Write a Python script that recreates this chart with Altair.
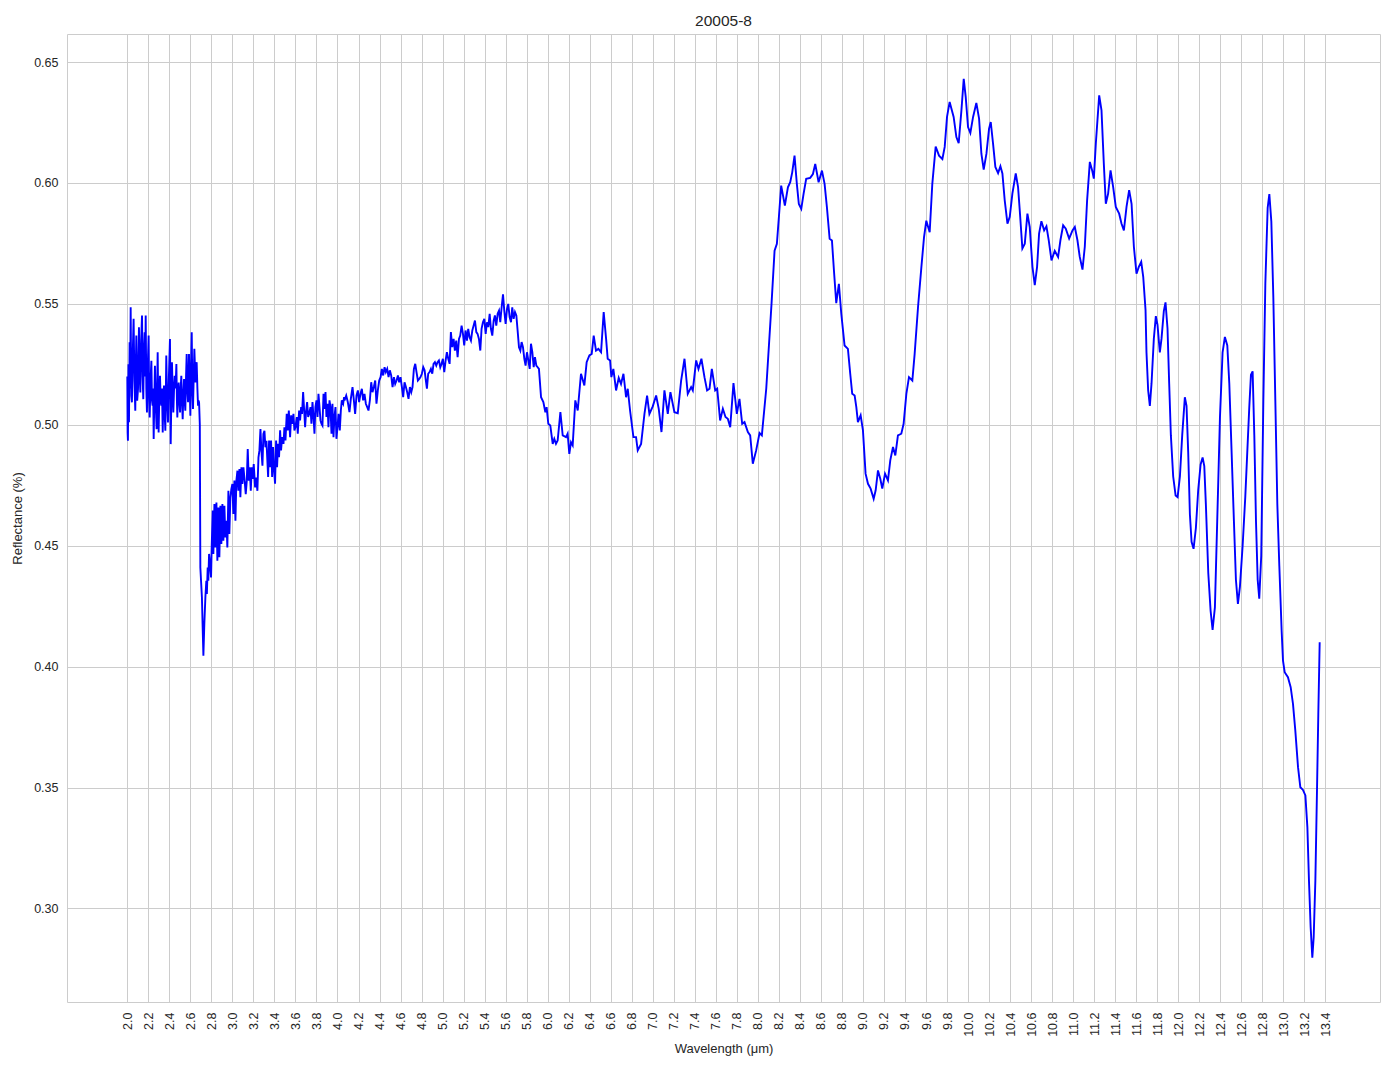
import altair as alt
import pandas as pd

TITLE = "20005-8"
X_TITLE = "Wavelength (μm)"
Y_TITLE = "Reflectance (%)"

x_ticks = [2.0, 2.2, 2.4, 2.6, 2.8, 3.0, 3.2, 3.4, 3.6, 3.8, 4.0, 4.2, 4.4, 4.6, 4.8,
           5.0, 5.2, 5.4, 5.6, 5.8, 6.0, 6.2, 6.4, 6.6, 6.8, 7.0, 7.2, 7.4, 7.6, 7.8,
           8.0, 8.2, 8.4, 8.6, 8.8, 9.0, 9.2, 9.4, 9.6, 9.8, 10.0, 10.2, 10.4, 10.6,
           10.8, 11.0, 11.2, 11.4, 11.6, 11.8, 12.0, 12.2, 12.4, 12.6, 12.8, 13.0,
           13.2, 13.4]
y_ticks = [0.30, 0.35, 0.40, 0.45, 0.50, 0.55, 0.60, 0.65]

# (wavelength µm, reflectance), segment by segment
seg_noisy_start = [
    (2.000, 0.5200), (2.003, 0.4968), (2.006, 0.4934), (2.011, 0.5250), (2.016, 0.5010),
    (2.022, 0.5341), (2.027, 0.5150), (2.032, 0.5486), (2.038, 0.5120), (2.044, 0.5093),
    (2.052, 0.5300), (2.060, 0.5438), (2.068, 0.5180), (2.076, 0.5058), (2.081, 0.5250),
    (2.086, 0.5369), (2.094, 0.5100), (2.102, 0.5148), (2.107, 0.5300), (2.111, 0.5403),
    (2.118, 0.5200), (2.124, 0.5134), (2.132, 0.5350), (2.140, 0.5452), (2.146, 0.5200),
    (2.152, 0.5106), (2.158, 0.5300), (2.165, 0.5383), (2.170, 0.5200), (2.175, 0.5452),
    (2.181, 0.5150), (2.187, 0.5051), (2.195, 0.5250), (2.203, 0.5369), (2.208, 0.5100),
    (2.213, 0.5030), (2.221, 0.5180), (2.229, 0.5265), (2.235, 0.5100), (2.241, 0.5079),
    (2.246, 0.5150), (2.251, 0.4941), (2.257, 0.5100), (2.263, 0.5244), (2.271, 0.5080),
    (2.279, 0.4982), (2.284, 0.5150), (2.289, 0.5300), (2.294, 0.5100), (2.298, 0.4968),
    (2.305, 0.5120), (2.311, 0.5203), (2.318, 0.5100), (2.324, 0.5079), (2.330, 0.5150),
    (2.337, 0.4968), (2.343, 0.5100), (2.349, 0.5162), (2.355, 0.5050), (2.362, 0.4975),
    (2.367, 0.5150), (2.371, 0.5286), (2.379, 0.5100), (2.387, 0.5010), (2.396, 0.5200),
    (2.406, 0.5355), (2.410, 0.5100), (2.413, 0.4920), (2.419, 0.5100), (2.425, 0.5258),
    (2.431, 0.5150), (2.438, 0.5051), (2.445, 0.5150), (2.451, 0.5203), (2.459, 0.5150),
    (2.467, 0.5251), (2.472, 0.5100), (2.476, 0.5030), (2.482, 0.5120), (2.489, 0.5175),
    (2.495, 0.5100), (2.502, 0.5051), (2.508, 0.5150), (2.514, 0.5203), (2.520, 0.5100),
    (2.527, 0.5023), (2.533, 0.5120), (2.540, 0.5189), (2.546, 0.5100), (2.552, 0.5058),
    (2.559, 0.5200), (2.565, 0.5293), (2.571, 0.5150), (2.578, 0.5093), (2.583, 0.5200),
    (2.587, 0.5293), (2.594, 0.5150), (2.600, 0.5037), (2.607, 0.5250), (2.613, 0.5383),
    (2.619, 0.5150), (2.625, 0.5065), (2.632, 0.5200), (2.638, 0.5314), (2.643, 0.5250),
    (2.648, 0.5175), (2.654, 0.5250), (2.660, 0.5258), (2.667, 0.5150), (2.673, 0.5079),
    (2.678, 0.5100), (2.683, 0.5093),
]

seg_drop_recovery = [
    (2.690, 0.5000), (2.695, 0.4410), (2.710, 0.4287), (2.717, 0.4163), (2.724, 0.4045),
    (2.733, 0.4176), (2.743, 0.4287), (2.752, 0.4355), (2.757, 0.4300), (2.765, 0.4410),
    (2.771, 0.4355), (2.778, 0.4466), (2.787, 0.4424), (2.797, 0.4369), (2.803, 0.4493),
    (2.813, 0.4645), (2.819, 0.4466), (2.829, 0.4672), (2.838, 0.4493), (2.848, 0.4679),
    (2.857, 0.4438), (2.867, 0.4658), (2.876, 0.4452), (2.886, 0.4665), (2.895, 0.4507),
    (2.905, 0.4672), (2.914, 0.4521), (2.924, 0.4665), (2.933, 0.4534), (2.943, 0.4603),
    (2.952, 0.4493), (2.962, 0.4727), (2.971, 0.4548), (2.981, 0.4700), (2.990, 0.4734),
    (3.000, 0.4755), (3.009, 0.4631), (3.019, 0.4769), (3.029, 0.4603), (3.038, 0.4769),
    (3.048, 0.4810), (3.057, 0.4727), (3.067, 0.4817), (3.076, 0.4700), (3.086, 0.4824),
    (3.095, 0.4755), (3.105, 0.4824), (3.114, 0.4782), (3.127, 0.4713), (3.137, 0.4769),
    (3.146, 0.4900), (3.156, 0.4769), (3.165, 0.4824), (3.175, 0.4727), (3.184, 0.4824),
    (3.194, 0.4776), (3.203, 0.4838), (3.216, 0.4741), (3.225, 0.4782), (3.238, 0.4727),
    (3.248, 0.4865), (3.257, 0.4893), (3.267, 0.4982), (3.276, 0.4893), (3.286, 0.4831),
    (3.295, 0.4962), (3.305, 0.4975), (3.314, 0.4907), (3.324, 0.4934),
]

seg_rise_to_4 = [
    (3.340, 0.4784), (3.349, 0.4935), (3.359, 0.4825), (3.368, 0.4935), (3.378, 0.4784),
    (3.387, 0.4908), (3.397, 0.4811), (3.406, 0.4756), (3.416, 0.4935), (3.425, 0.4825),
    (3.435, 0.4921), (3.444, 0.4866), (3.454, 0.4977), (3.463, 0.4894), (3.473, 0.4949),
    (3.486, 0.4921), (3.495, 0.4990), (3.505, 0.4935), (3.517, 0.5045), (3.527, 0.4977),
    (3.537, 0.5059), (3.549, 0.4949), (3.559, 0.5039), (3.568, 0.5004), (3.581, 0.5045),
    (3.590, 0.4977), (3.600, 0.4990), (3.613, 0.5032), (3.622, 0.4963), (3.635, 0.5059),
    (3.644, 0.5018), (3.654, 0.5073), (3.663, 0.5045), (3.673, 0.5135), (3.683, 0.5059),
    (3.692, 0.4990), (3.702, 0.5059), (3.711, 0.5094), (3.721, 0.5032), (3.730, 0.5045),
    (3.743, 0.5073), (3.752, 0.5004), (3.762, 0.5094), (3.771, 0.5039), (3.781, 0.4963),
    (3.790, 0.5073), (3.800, 0.5101), (3.810, 0.5032), (3.819, 0.5128), (3.829, 0.5073),
    (3.838, 0.5018), (3.848, 0.5004), (3.857, 0.4997), (3.867, 0.5128), (3.876, 0.5066),
    (3.886, 0.5135), (3.895, 0.5032), (3.905, 0.5087), (3.914, 0.4990), (3.924, 0.5101),
    (3.933, 0.5073), (3.943, 0.4963), (3.952, 0.5087), (3.962, 0.4949), (3.971, 0.5032),
    (3.981, 0.5073), (3.990, 0.4942), (4.000, 0.4990), (4.010, 0.5045), (4.022, 0.4977),
    (4.032, 0.5059), (4.041, 0.5101), (4.054, 0.5087), (4.063, 0.5114),
]

seg_4_to_6 = [
    (4.067, 0.5101), (4.083, 0.5121), (4.098, 0.5094), (4.114, 0.5052), (4.127, 0.5107),
    (4.143, 0.5156), (4.156, 0.5101), (4.168, 0.5045), (4.181, 0.5121), (4.194, 0.5142),
    (4.206, 0.5094), (4.219, 0.5128), (4.232, 0.5149), (4.244, 0.5101), (4.257, 0.5128),
    (4.270, 0.5087), (4.283, 0.5073), (4.295, 0.5059), (4.308, 0.5101), (4.321, 0.5176),
    (4.333, 0.5135), (4.346, 0.5156), (4.359, 0.5183), (4.371, 0.5087), (4.384, 0.5142),
    (4.397, 0.5183), (4.410, 0.5197), (4.422, 0.5231), (4.435, 0.5204), (4.448, 0.5238),
    (4.460, 0.5218), (4.473, 0.5231), (4.486, 0.5197), (4.498, 0.5225), (4.511, 0.5204),
    (4.524, 0.5156), (4.537, 0.5197), (4.549, 0.5169), (4.562, 0.5183), (4.575, 0.5204),
    (4.587, 0.5176), (4.600, 0.5197), (4.613, 0.5156), (4.625, 0.5114), (4.638, 0.5176),
    (4.651, 0.5156), (4.663, 0.5135), (4.676, 0.5107), (4.689, 0.5156), (4.702, 0.5135),
    (4.714, 0.5156), (4.727, 0.5231), (4.740, 0.5252), (4.752, 0.5218), (4.765, 0.5183),
    (4.778, 0.5190), (4.790, 0.5197), (4.803, 0.5211), (4.816, 0.5238), (4.829, 0.5225),
    (4.841, 0.5183), (4.851, 0.5149), (4.863, 0.5211), (4.876, 0.5218), (4.889, 0.5231),
    (4.902, 0.5211), (4.914, 0.5252), (4.927, 0.5259), (4.940, 0.5245), (4.952, 0.5259),
    (4.965, 0.5266), (4.978, 0.5238), (4.990, 0.5252), (5.003, 0.5273), (5.016, 0.5218),
    (5.029, 0.5266), (5.041, 0.5300), (5.054, 0.5273), (5.067, 0.5252), (5.079, 0.5383),
    (5.092, 0.5321), (5.105, 0.5355), (5.117, 0.5307), (5.130, 0.5348), (5.143, 0.5280),
    (5.156, 0.5355), (5.168, 0.5369), (5.181, 0.5410), (5.194, 0.5376), (5.206, 0.5328),
    (5.219, 0.5390), (5.232, 0.5348), (5.244, 0.5397), (5.257, 0.5362), (5.270, 0.5348),
    (5.283, 0.5390), (5.295, 0.5410), (5.308, 0.5431), (5.321, 0.5383), (5.333, 0.5376),
    (5.346, 0.5355), (5.359, 0.5307), (5.371, 0.5397), (5.384, 0.5424), (5.397, 0.5438),
    (5.410, 0.5376), (5.422, 0.5424), (5.435, 0.5404), (5.448, 0.5459), (5.460, 0.5397),
    (5.473, 0.5369), (5.486, 0.5431), (5.498, 0.5452), (5.511, 0.5410), (5.524, 0.5459),
    (5.537, 0.5472), (5.549, 0.5424), (5.562, 0.5486), (5.575, 0.5539), (5.587, 0.5472),
    (5.600, 0.5417), (5.613, 0.5479), (5.625, 0.5500), (5.638, 0.5445), (5.651, 0.5424),
    (5.663, 0.5486), (5.676, 0.5438), (5.689, 0.5466), (5.702, 0.5452), (5.714, 0.5390),
    (5.727, 0.5321), (5.740, 0.5307), (5.752, 0.5342), (5.765, 0.5321), (5.778, 0.5273),
    (5.790, 0.5245), (5.803, 0.5300), (5.816, 0.5266), (5.829, 0.5231), (5.841, 0.5335),
    (5.854, 0.5300), (5.867, 0.5238), (5.879, 0.5280), (5.892, 0.5245), (5.905, 0.5238),
    (5.917, 0.5231),
]

seg_6_to_8 = [
    (5.937, 0.5114), (5.959, 0.5094), (5.978, 0.5052), (5.990, 0.5073), (6.006, 0.5004),
    (6.025, 0.4997), (6.048, 0.4921), (6.063, 0.4942), (6.079, 0.4921), (6.095, 0.4935),
    (6.121, 0.5052), (6.143, 0.4956), (6.175, 0.4949), (6.190, 0.4963), (6.206, 0.4880),
    (6.222, 0.4928), (6.238, 0.4915), (6.263, 0.5101), (6.286, 0.5059), (6.317, 0.5211),
    (6.349, 0.5163), (6.371, 0.5259), (6.397, 0.5287), (6.419, 0.5293), (6.438, 0.5369),
    (6.460, 0.5307), (6.483, 0.5314), (6.508, 0.5300), (6.533, 0.5466), (6.556, 0.5355),
    (6.571, 0.5273), (6.594, 0.5266), (6.606, 0.5197), (6.625, 0.5231), (6.651, 0.5142),
    (6.676, 0.5194), (6.698, 0.5169), (6.721, 0.5211), (6.746, 0.5114), (6.762, 0.5149),
    (6.784, 0.5059), (6.816, 0.4949), (6.841, 0.4949), (6.857, 0.4894), (6.889, 0.4921),
    (6.921, 0.5045), (6.946, 0.5121), (6.968, 0.5045), (7.000, 0.5076), (7.032, 0.5121),
    (7.057, 0.5066), (7.083, 0.4970), (7.111, 0.5142), (7.143, 0.5045), (7.168, 0.5135),
    (7.206, 0.5052), (7.238, 0.5048), (7.270, 0.5183), (7.302, 0.5273), (7.333, 0.5128),
    (7.365, 0.5156), (7.381, 0.5142), (7.413, 0.5266), (7.435, 0.5231), (7.463, 0.5273),
    (7.492, 0.5197), (7.517, 0.5142), (7.540, 0.5149), (7.562, 0.5231), (7.594, 0.5142),
    (7.613, 0.5149), (7.641, 0.5018), (7.667, 0.5066), (7.692, 0.5032), (7.714, 0.5025),
    (7.737, 0.4990), (7.768, 0.5172), (7.800, 0.5045), (7.825, 0.5107), (7.851, 0.5004),
    (7.873, 0.5011), (7.905, 0.4970), (7.927, 0.4956), (7.952, 0.4839), (7.984, 0.4894),
    (8.016, 0.4966), (8.038, 0.4956), (8.080, 0.5150), (8.130, 0.5500),
]

seg_8_to_9_8 = [
    (8.159, 0.5720), (8.181, 0.5748), (8.200, 0.5858), (8.222, 0.5989), (8.257, 0.5906),
    (8.286, 0.5982), (8.308, 0.6003), (8.327, 0.6044), (8.349, 0.6113), (8.371, 0.5996),
    (8.390, 0.5913), (8.413, 0.5893), (8.435, 0.5955), (8.460, 0.6017), (8.498, 0.6021),
    (8.524, 0.6037), (8.546, 0.6079), (8.578, 0.6003), (8.610, 0.6051), (8.635, 0.5996),
    (8.657, 0.5900), (8.683, 0.5769), (8.705, 0.5762), (8.724, 0.5638), (8.746, 0.5503),
    (8.771, 0.5583), (8.794, 0.5459), (8.825, 0.5328), (8.857, 0.5314), (8.879, 0.5211),
    (8.898, 0.5128), (8.921, 0.5121), (8.937, 0.5073), (8.952, 0.5011), (8.978, 0.5039),
    (9.000, 0.4977), (9.025, 0.4798), (9.048, 0.4756), (9.073, 0.4736), (9.102, 0.4694),
    (9.121, 0.4729), (9.143, 0.4811), (9.165, 0.4777), (9.184, 0.4736), (9.210, 0.4798),
    (9.238, 0.4770), (9.260, 0.4853), (9.286, 0.4908), (9.308, 0.4873), (9.333, 0.4956),
    (9.365, 0.4963), (9.387, 0.5004), (9.413, 0.5128), (9.438, 0.5197), (9.470, 0.5183),
    (9.492, 0.5293), (9.524, 0.5486), (9.556, 0.5652), (9.581, 0.5775), (9.603, 0.5844),
    (9.635, 0.5796), (9.660, 0.5996), (9.692, 0.6150), (9.724, 0.6113), (9.756, 0.6099),
]

seg_9_8_to_11_7 = [
    (9.778, 0.6149), (9.800, 0.6273), (9.825, 0.6335), (9.863, 0.6273), (9.889, 0.6190),
    (9.911, 0.6165), (9.937, 0.6300), (9.959, 0.6431), (9.978, 0.6355), (10.000, 0.6231),
    (10.022, 0.6207), (10.048, 0.6273), (10.079, 0.6331), (10.105, 0.6266), (10.127, 0.6121),
    (10.149, 0.6055), (10.175, 0.6121), (10.200, 0.6225), (10.216, 0.6252), (10.238, 0.6163),
    (10.260, 0.6066), (10.286, 0.6041), (10.308, 0.6069), (10.327, 0.6039), (10.349, 0.5928),
    (10.375, 0.5832), (10.397, 0.5860), (10.422, 0.5956), (10.454, 0.6039), (10.476, 0.5983),
    (10.492, 0.5887), (10.517, 0.5729), (10.540, 0.5749), (10.565, 0.5873), (10.587, 0.5818),
    (10.613, 0.5653), (10.635, 0.5577), (10.657, 0.5653), (10.676, 0.5791), (10.698, 0.5842),
    (10.724, 0.5804), (10.746, 0.5821), (10.768, 0.5763), (10.794, 0.5680), (10.825, 0.5719),
    (10.857, 0.5694), (10.879, 0.5763), (10.905, 0.5825), (10.930, 0.5811), (10.962, 0.5770),
    (10.994, 0.5804), (11.016, 0.5818), (11.041, 0.5763), (11.063, 0.5694), (11.089, 0.5642),
    (11.111, 0.5736), (11.133, 0.5928), (11.159, 0.6087), (11.181, 0.6052), (11.197, 0.6018),
    (11.216, 0.6163), (11.248, 0.6362), (11.270, 0.6300), (11.292, 0.6080), (11.311, 0.5914),
    (11.333, 0.5956), (11.356, 0.6052), (11.381, 0.5983), (11.406, 0.5901), (11.438, 0.5873),
    (11.460, 0.5832), (11.483, 0.5804), (11.508, 0.5901), (11.533, 0.5970), (11.556, 0.5914),
    (11.578, 0.5736), (11.603, 0.5625), (11.625, 0.5653), (11.648, 0.5674), (11.667, 0.5612),
    (11.689, 0.5474),
]

seg_11_7_to_13 = [
    (11.698, 0.5299), (11.714, 0.5142), (11.730, 0.5078), (11.746, 0.5171), (11.768, 0.5356),
    (11.787, 0.5449), (11.803, 0.5413), (11.825, 0.5299), (11.841, 0.5356), (11.863, 0.5470),
    (11.879, 0.5506), (11.898, 0.5399), (11.914, 0.5171), (11.930, 0.4957), (11.952, 0.4786),
    (11.975, 0.4708), (11.994, 0.4701), (12.016, 0.4786), (12.038, 0.4957), (12.063, 0.5114),
    (12.079, 0.5078), (12.095, 0.4886), (12.111, 0.4630), (12.127, 0.4516), (12.146, 0.4487),
    (12.168, 0.4573), (12.190, 0.4729), (12.213, 0.4836), (12.232, 0.4865), (12.248, 0.4829),
    (12.263, 0.4672), (12.286, 0.4387), (12.308, 0.4231), (12.327, 0.4152), (12.349, 0.4245),
    (12.371, 0.4601), (12.397, 0.5029), (12.422, 0.5299), (12.444, 0.5363), (12.467, 0.5328),
    (12.486, 0.5171), (12.508, 0.4886), (12.530, 0.4601), (12.549, 0.4359), (12.568, 0.4259),
    (12.587, 0.4330), (12.613, 0.4501), (12.638, 0.4701), (12.657, 0.4886), (12.676, 0.5071),
    (12.692, 0.5207), (12.708, 0.5221), (12.724, 0.4957), (12.740, 0.4601), (12.756, 0.4359),
    (12.771, 0.4281), (12.790, 0.4459), (12.810, 0.5100), (12.829, 0.5584), (12.851, 0.5897),
    (12.867, 0.5954), (12.886, 0.5840), (12.905, 0.5527), (12.924, 0.5100), (12.943, 0.4672),
    (12.962, 0.4416), (12.984, 0.4148),
]

seg_tail = [
    (12.997, 0.4025), (13.013, 0.3977), (13.044, 0.3956), (13.070, 0.3915), (13.092, 0.3846),
    (13.114, 0.3736), (13.140, 0.3584), (13.162, 0.3501), (13.187, 0.3490), (13.210, 0.3467),
    (13.229, 0.3336), (13.244, 0.3116), (13.260, 0.2923), (13.276, 0.2796), (13.289, 0.2881),
    (13.305, 0.3116), (13.321, 0.3501), (13.333, 0.3804), (13.346, 0.4101),
]

segments = [seg_noisy_start, seg_drop_recovery, seg_rise_to_4, seg_4_to_6, seg_6_to_8,
            seg_8_to_9_8, seg_9_8_to_11_7, seg_11_7_to_13, seg_tail]
points = [p for seg in segments for p in seg]
df = pd.DataFrame({
    "wavelength": [p[0] for p in points],
    "reflectance": [p[1] for p in points],
    "idx": list(range(len(points))),
})

TEXT = "#262626"
FONT = "Liberation Sans"

line = alt.Chart(df).mark_line(color="#0000ff", strokeWidth=1.9).encode(
    x=alt.X("wavelength:Q",
            scale=alt.Scale(domain=[1.4262, 13.92], nice=False, zero=False),
            axis=alt.Axis(values=x_ticks, format=".1f", labelAngle=270,
                          title=X_TITLE, labelPadding=10, titlePadding=6)),
    y=alt.Y("reflectance:Q",
            scale=alt.Scale(domain=[0.2613, 0.6616], nice=False, zero=False),
            axis=alt.Axis(values=y_ticks, format=".2f", title=Y_TITLE,
                          labelPadding=9, titlePadding=9)),
    order="idx:Q",
)

chart = line.properties(
    width=1313, height=968,
    background="white",
    title=alt.TitleParams(TITLE, fontSize=15.5, fontWeight="normal", color=TEXT,
                          font=FONT, anchor="middle", offset=5),
    autosize=alt.AutoSizeParams(type="none"),
    padding={"left": 59, "top": 26, "right": 6, "bottom": 60},
).configure_view(
    stroke="#cccccc", strokeWidth=1
).configure_axis(
    grid=True, gridColor="#cccccc", gridWidth=1, domain=False, ticks=False, tickSize=0,
    labelFont=FONT, labelFontSize=12.5, labelColor=TEXT,
    titleFont=FONT, titleFontSize=13, titleFontWeight="normal", titleColor=TEXT,
)

chart.save("out.html", embed_options={"renderer": "svg", "actions": False})
